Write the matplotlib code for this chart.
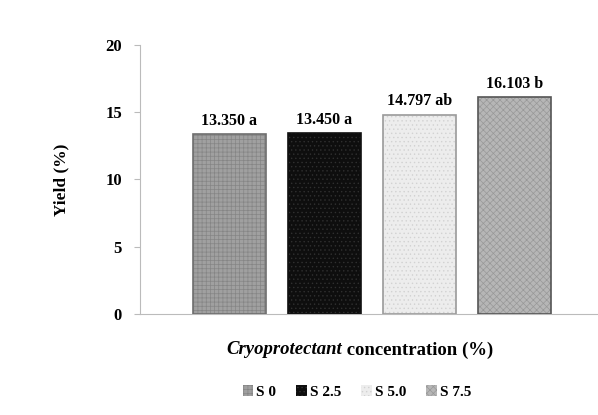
import numpy as np
import matplotlib.pyplot as plt
from matplotlib.offsetbox import TextArea, HPacker, AnchoredOffsetbox

plt.rcParams['font.family'] = ['Liberation Serif', 'DejaVu Serif']
plt.rcParams['hatch.linewidth'] = 0.5

groups = ['S 0', 'S 2.5', 'S 5.0', 'S 7.5']
yield_pct = [13.350, 13.450, 14.797, 16.103]
letters = ['a', 'a', 'ab', 'b']

faces = ['#a0a0a0', '#0e0e0e', '#ededed', '#b6b6b6']
hatch_cols = ['#858585', '#303030', '#d2d2d2', '#989898']
edges = ['#6e6e6e', '#111111', '#9a9a9a', '#555555']
hatches = ['++++', '....', '....', 'xxxxx']

fig = plt.figure(figsize=(5.98, 4.15), dpi=100)
ax = fig.add_axes([0.234, 0.2434, 0.766, 0.6482])

x = np.arange(len(groups))
bars = []
for i in range(len(groups)):
    b = ax.bar(x[i], yield_pct[i], width=0.76, color=faces[i], edgecolor=hatch_cols[i],
               hatch=hatches[i], linewidth=0, label=groups[i], zorder=2)
    ax.bar(x[i], yield_pct[i], width=0.76, fill=False, edgecolor=edges[i], linewidth=1.2, zorder=3)
    bars.append(b)
    ax.annotate(f'{yield_pct[i]:.3f} {letters[i]}', (x[i], yield_pct[i]), xytext=(0, 4),
                textcoords='offset points', ha='center', va='bottom',
                fontsize=11.5, fontweight='bold')

ax.set_xlim(-0.942, 3.879)
ax.set_ylim(0, 20)
ax.set_yticks([0, 5, 10, 15, 20])
ax.set_xticks([])
ax.tick_params(axis='y', length=4, color='#bbbbbb', labelsize=12, pad=9)
for lab in ax.get_yticklabels():
    lab.set_fontweight('bold')
ax.spines['top'].set_visible(False)
ax.spines['right'].set_visible(False)
ax.spines['left'].set_color('#bbbbbb')
ax.spines['bottom'].set_color('#bbbbbb')
ax.set_ylabel('Yield (%)', fontsize=12.5, fontweight='bold', labelpad=26)

# x label: italic + normal bold pieces
t1 = TextArea('Cryoprotectant', textprops=dict(fontsize=13.5, fontweight='bold', fontstyle='italic'))
t2 = TextArea(' concentration (%)', textprops=dict(fontsize=13.5, fontweight='bold'))
box = HPacker(children=[t1, t2], align='baseline', pad=0, sep=0)
anch = AnchoredOffsetbox(loc='center', child=box, frameon=False,
                         bbox_to_anchor=(0.602, 0.157), bbox_transform=fig.transFigure)
fig.add_artist(anch)

fig.legend(handles=bars, labels=groups, loc='center', bbox_to_anchor=(0.597, 0.055), ncol=4,
           frameon=False, handlelength=0.7, handleheight=0.7, handletextpad=0.2,
           columnspacing=1.3, prop=dict(size=11, weight='bold'))

fig.savefig('out.png', dpi=100)
